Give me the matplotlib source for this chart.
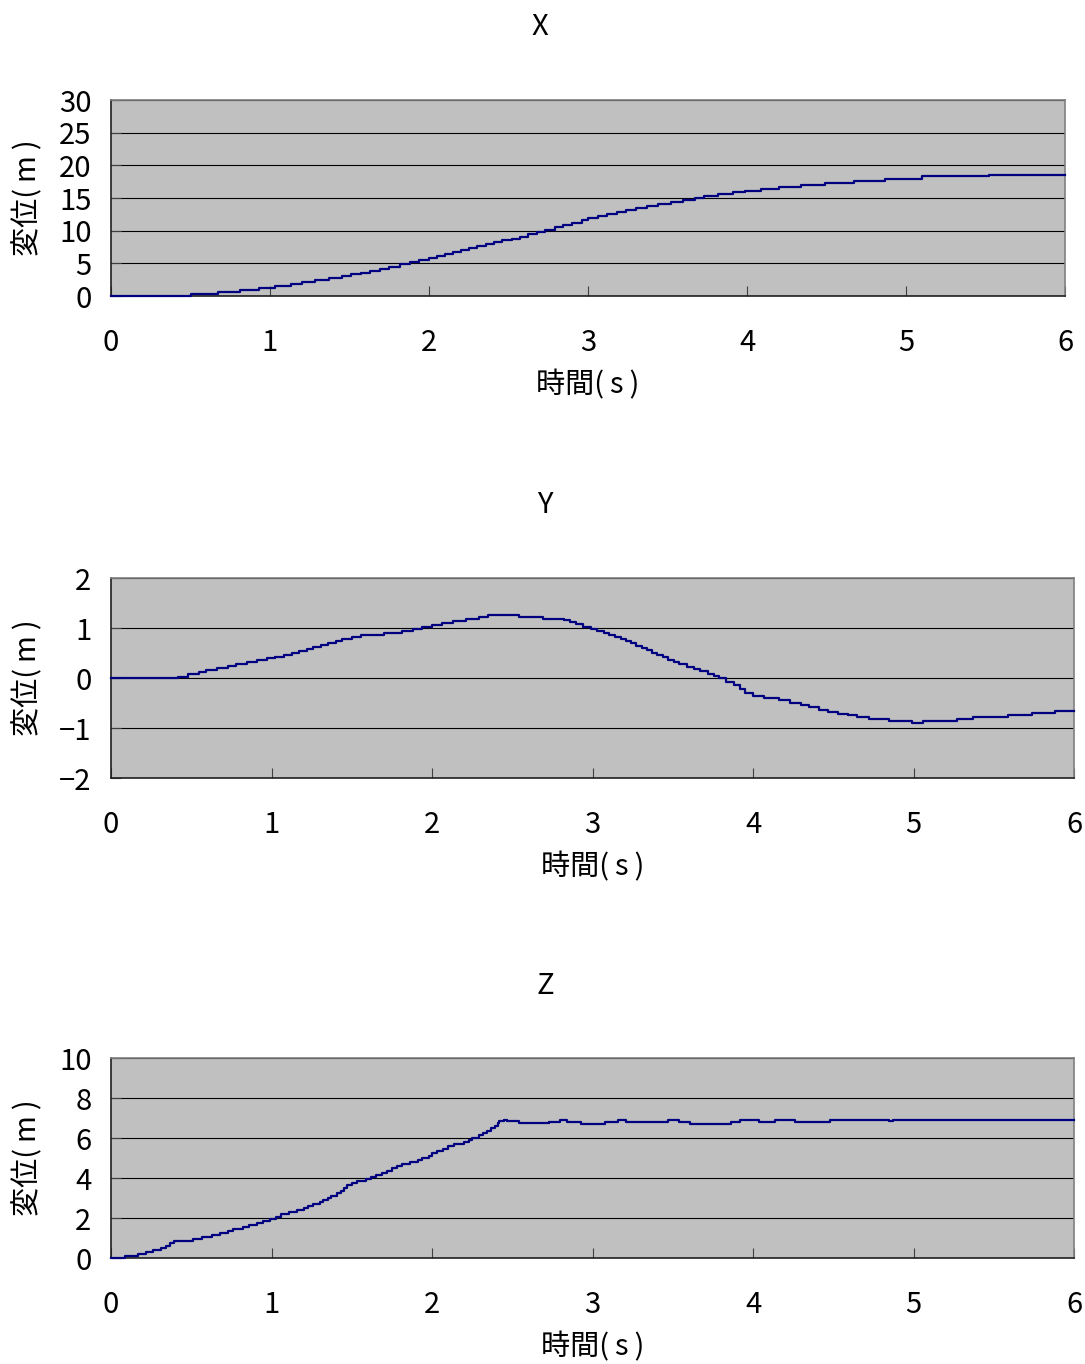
#!/usr/bin/env python3

import matplotlib
matplotlib.use('Agg')
import matplotlib.pyplot as plt

plt.rcParams['font.family'] = ['Noto Sans CJK JP', 'DejaVu Sans']
plt.rcParams['axes.unicode_minus'] = True

# displacement step data: time (s) / value (m)
x_t = [0, 0.50, 0.67, 0.81, 0.93, 1.03, 1.13, 1.20, 1.28, 1.37, 1.45, 1.51, 1.57, 1.63, 1.69,
       1.75, 1.82, 1.88, 1.94, 2.00, 2.05, 2.10, 2.15, 2.20, 2.25, 2.30, 2.36, 2.41, 2.46, 2.52,
       2.57, 2.62, 2.68, 2.73, 2.79, 2.84, 2.90, 2.96, 3.00, 3.06, 3.12, 3.18, 3.24, 3.30, 3.37,
       3.44, 3.52, 3.60, 3.67, 3.73, 3.82, 3.91, 3.99, 4.09, 4.20, 4.34, 4.49, 4.67, 4.87, 5.10,
       5.52, 6.00]
x_v = [0, 0.25, 0.6, 0.9, 1.2, 1.5, 1.8, 2.2, 2.45, 2.8, 3.1, 3.3, 3.5, 3.8, 4.1,
       4.5, 4.9, 5.2, 5.5, 5.8, 6.1, 6.4, 6.7, 7.0, 7.3, 7.6, 7.9, 8.2, 8.5, 8.8,
       9.1, 9.5, 9.8, 10.1, 10.5, 10.8, 11.2, 11.6, 12.0, 12.3, 12.6, 12.9, 13.2, 13.5, 13.8,
       14.1, 14.4, 14.7, 15.0, 15.3, 15.6, 15.9, 16.1, 16.4, 16.7, 17.0, 17.3, 17.65, 17.95, 18.3,
       18.5, 18.5]

y_t = [0, 0.42, 0.48, 0.55, 0.59, 0.66, 0.73, 0.78, 0.85, 0.91, 0.97, 1.02, 1.08, 1.13, 1.17,
       1.22, 1.26, 1.31, 1.35, 1.40, 1.44, 1.50, 1.56, 1.70, 1.81, 1.88, 1.94, 2.00, 2.06, 2.13,
       2.21, 2.29, 2.35, 2.54, 2.69, 2.82, 2.86, 2.90, 2.94, 2.99, 3.03, 3.07, 3.10, 3.14, 3.18,
       3.21, 3.24, 3.27, 3.31, 3.34, 3.37, 3.40, 3.44, 3.47, 3.51, 3.54, 3.59, 3.63, 3.67, 3.72,
       3.76, 3.79, 3.83, 3.88, 3.92, 3.95, 4.00, 4.07, 4.16, 4.23, 4.30, 4.35, 4.41, 4.47, 4.53,
       4.59, 4.65, 4.72, 4.85, 4.99, 5.06, 5.27, 5.37, 5.59, 5.74, 5.88, 6.00]
y_v = [0, 0.03, 0.08, 0.12, 0.17, 0.20, 0.24, 0.28, 0.32, 0.36, 0.40, 0.43, 0.47, 0.51, 0.55,
       0.58, 0.63, 0.67, 0.71, 0.75, 0.79, 0.83, 0.87, 0.91, 0.95, 0.99, 1.03, 1.07, 1.11, 1.14,
       1.18, 1.22, 1.27, 1.23, 1.19, 1.16, 1.12, 1.08, 1.03, 0.99, 0.95, 0.91, 0.87, 0.83, 0.79,
       0.75, 0.70, 0.65, 0.61, 0.56, 0.51, 0.47, 0.42, 0.37, 0.33, 0.28, 0.23, 0.19, 0.14, 0.09,
       0.05, 0.0, -0.07, -0.13, -0.22, -0.29, -0.35, -0.39, -0.44, -0.49, -0.53, -0.58, -0.63, -0.67, -0.71,
       -0.74, -0.77, -0.81, -0.85, -0.89, -0.85, -0.81, -0.77, -0.73, -0.69, -0.65, -0.65]

z_t = [0, 0.09, 0.17, 0.22, 0.26, 0.31, 0.34, 0.37, 0.39, 0.51, 0.57, 0.63, 0.68, 0.73, 0.76,
       0.82, 0.86, 0.91, 0.95, 0.99, 1.03, 1.06, 1.11, 1.16, 1.20, 1.23, 1.26, 1.30, 1.32, 1.35,
       1.37, 1.41, 1.43, 1.45, 1.47, 1.50, 1.53, 1.59, 1.62, 1.65, 1.69, 1.72, 1.75, 1.78, 1.81,
       1.86, 1.91, 1.94, 1.98, 2.00, 2.03, 2.07, 2.10, 2.14, 2.20, 2.23, 2.25, 2.29, 2.32, 2.34,
       2.37, 2.39, 2.41, 2.42, 2.45, 2.47, 2.54, 2.73, 2.80, 2.84, 2.93, 3.08, 3.16, 3.21, 3.47,
       3.54, 3.61, 3.86, 3.92, 4.04, 4.14, 4.26, 4.48, 4.85, 4.87, 6.00]
z_v = [0, 0.1, 0.2, 0.3, 0.4, 0.5, 0.62, 0.73, 0.83, 0.93, 1.03, 1.13, 1.23, 1.33, 1.43,
       1.53, 1.63, 1.75, 1.85, 1.95, 2.07, 2.18, 2.3, 2.4, 2.5, 2.6, 2.7, 2.8, 2.9, 3.0,
       3.12, 3.23, 3.37, 3.5, 3.63, 3.77, 3.87, 3.97, 4.07, 4.17, 4.27, 4.37, 4.48, 4.6, 4.72,
       4.82, 4.92, 5.02, 5.12, 5.23, 5.35, 5.47, 5.58, 5.7, 5.8, 5.9, 6.02, 6.13, 6.25, 6.37,
       6.48, 6.6, 6.73, 6.87, 6.92, 6.83, 6.73, 6.82, 6.92, 6.82, 6.72, 6.82, 6.92, 6.82, 6.92,
       6.82, 6.72, 6.82, 6.92, 6.82, 6.92, 6.82, 6.92, 6.84, 6.92, 6.92]

titles = ['X', 'Y', 'Z']
y_ranges = [(0, 30, 5), (-2, 2, 1), (0, 10, 2)]
x_ticks = [0, 1, 2, 3, 4, 5, 6]
xlabel = '時間(\u2009s\u2009)'
ylabel = '変位(\u2009m\u2009)'

W, H = 1085, 1364
fig = plt.figure(figsize=(W / 100, H / 100), dpi=100)

# pixel boxes of the plot areas: left, right, top, bottom
boxes = [(111, 1065, 100, 296), (111, 1074, 578, 778), (111, 1074, 1058, 1258)]
title_pos = [(540, 27), (545, 505), (545, 986)]
series = [(x_t, x_v), (y_t, y_v), (z_t, z_v)]

for i in range(3):
    l, r, t, b = boxes[i]
    ax = fig.add_axes([l / W, 1 - b / H, (r - l) / W, (b - t) / H])
    ax.set_facecolor('#c0c0c0')
    ts, vs = series[i]
    ax.step(ts, vs, where='post', color='#000080', lw=1.6, zorder=3, clip_on=False)

    lo, hi, step = y_ranges[i]
    ax.set_xlim(0, 6)
    ax.set_ylim(lo, hi)
    ax.set_xticks(x_ticks)
    yt = list(range(lo, hi + 1, step))
    ax.set_yticks(yt)
    ax.set_yticklabels([str(v).replace('-', '\u2212') for v in yt])
    ax.grid(axis='y', color='black', lw=0.8)
    ax.set_axisbelow(True)

    ax.tick_params(axis='x', direction='in', length=7, width=0.8, pad=23,
                   labelsize=21, color='#404040')
    ax.tick_params(axis='y', direction='in', length=7, width=0.8, pad=14,
                   labelsize=21, color='#404040')
    for side in ['top', 'right']:
        ax.spines[side].set_color('#808080')
        ax.spines[side].set_linewidth(1.2)
    for side in ['left', 'bottom']:
        ax.spines[side].set_color('#202020')
        ax.spines[side].set_linewidth(1.2)

    ax.set_xlabel(xlabel, fontsize=21)
    ax.xaxis.set_label_coords(0.5, -89 / (b - t))
    ax.xaxis.label.set_va('center')
    ax.set_ylabel(ylabel, fontsize=21)
    ax.yaxis.set_label_coords(-(l - 28) / (r - l), 0.5)
    ax.yaxis.label.set_va('center')

    tx, ty = title_pos[i]
    fig.text(tx / W, 1 - ty / H, titles[i], ha='center', va='center', fontsize=21)

fig.savefig('out.png', dpi=100, facecolor='white')
